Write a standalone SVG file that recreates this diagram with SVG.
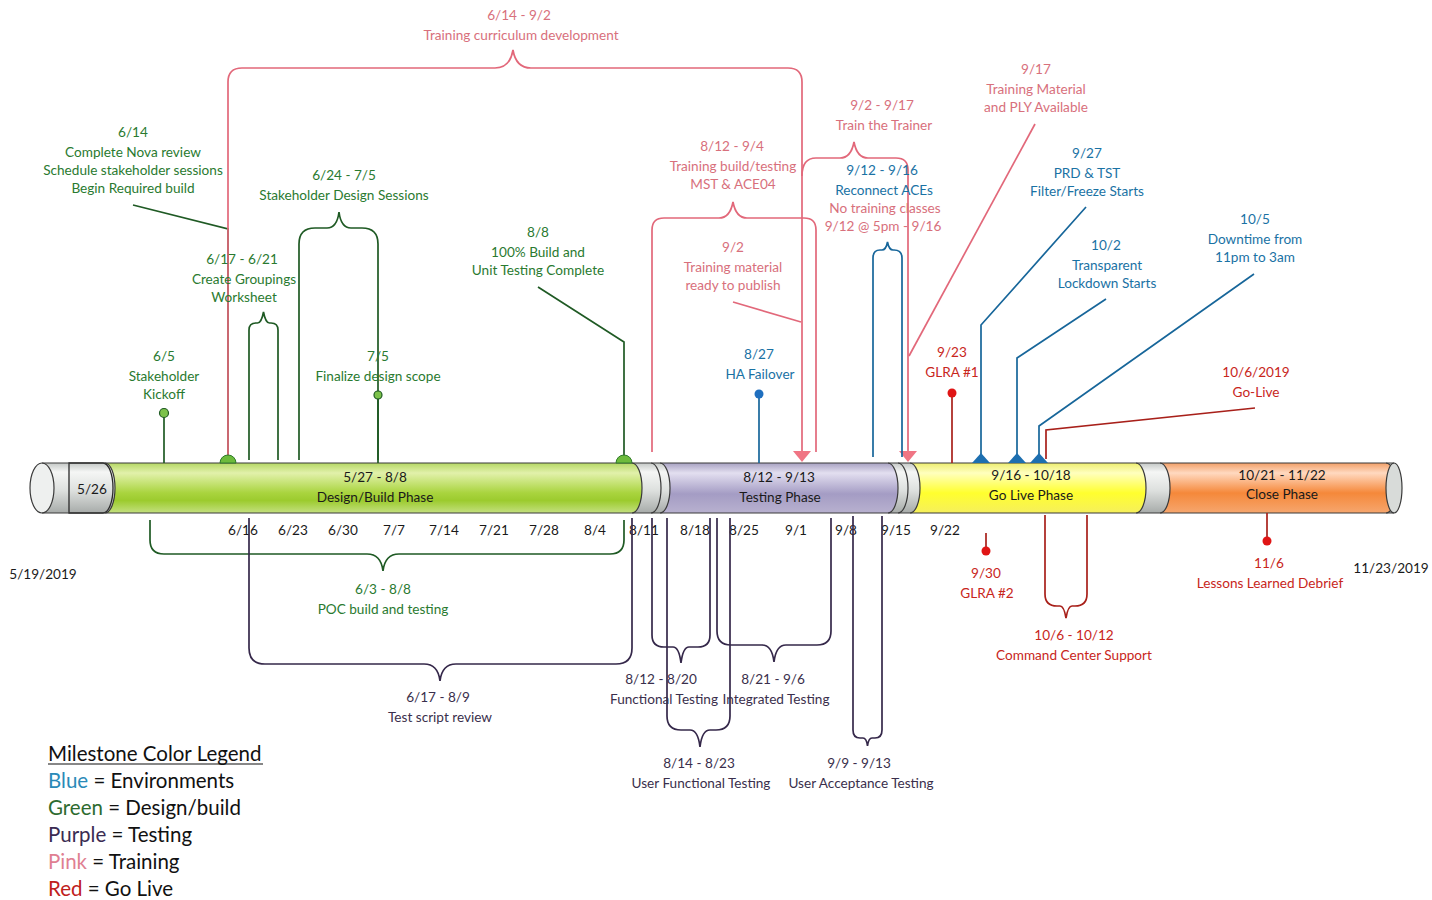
<svg xmlns="http://www.w3.org/2000/svg" width="1432" height="900" viewBox="0 0 1432 900">
<style>
.t{font-family:Lato,"Liberation Sans",sans-serif;font-size:13.6px;text-anchor:middle}
.g{fill:#2a7a30}.p{fill:#d8707c}.b{fill:#1a72a4}.r{fill:#c8261b}.u{fill:#3a2f4c}.k{fill:#1a1a1a}
.lg{stroke:#1f5a24;fill:none;stroke-width:1.7}
.lp{stroke:#e2687a;fill:none;stroke-width:1.7}
.lb{stroke:#17669a;fill:none;stroke-width:1.7}
.lr{stroke:#a8201a;fill:none;stroke-width:1.7}
.lu{stroke:#35284a;fill:none;stroke-width:1.7}
.sep{stroke:#3a3a3a;fill:none;stroke-width:1.2}
.leg{font-family:Lato,"Liberation Sans",sans-serif;font-size:20.5px;fill:#111}
</style>
<defs>
<linearGradient id="gGrey" x1="0" y1="0" x2="0" y2="1">
<stop offset="0" stop-color="#c4c8c6"/><stop offset="0.18" stop-color="#f5f6f5"/><stop offset="0.55" stop-color="#dde0de"/><stop offset="1" stop-color="#a7aba9"/>
</linearGradient>
<linearGradient id="gGreen" x1="0" y1="0" x2="0" y2="1">
<stop offset="0" stop-color="#b5d764"/><stop offset="0.2" stop-color="#e2f1ab"/><stop offset="0.6" stop-color="#a9d43e"/><stop offset="0.75" stop-color="#9ccb2e"/><stop offset="1" stop-color="#c4e080"/>
</linearGradient>
<linearGradient id="gPurple" x1="0" y1="0" x2="0" y2="1">
<stop offset="0" stop-color="#a8a2c2"/><stop offset="0.2" stop-color="#e3dff0"/><stop offset="0.62" stop-color="#a49cc4"/><stop offset="1" stop-color="#b8b1cf"/>
</linearGradient>
<linearGradient id="gYellow" x1="0" y1="0" x2="0" y2="1">
<stop offset="0" stop-color="#eeee70"/><stop offset="0.2" stop-color="#ffffbe"/><stop offset="0.6" stop-color="#ffff2e"/><stop offset="1" stop-color="#f5ef5c"/>
</linearGradient>
<linearGradient id="gOrange" x1="0" y1="0" x2="0" y2="1">
<stop offset="0" stop-color="#f2a068"/><stop offset="0.2" stop-color="#ffd9c0"/><stop offset="0.6" stop-color="#f5883a"/><stop offset="1" stop-color="#f6a66e"/>
</linearGradient>
</defs>
<rect width="1432" height="900" fill="#ffffff"/>

<!-- timeline bar -->
<g id="timeline-bar">
<rect x="42" y="463" width="1352" height="50" fill="url(#gGrey)"/>
<path d="M105,463 H632 A10,25 0 0 1 632,513 H105 A10,25 0 0 0 105,463 Z" fill="url(#gGreen)"/>
<path d="M660,463 H888 A10,25 0 0 1 888,513 H660 A10,25 0 0 0 660,463 Z" fill="url(#gPurple)"/>
<path d="M910,463 H1136 A10,25 0 0 1 1136,513 H910 A10,25 0 0 0 910,463 Z" fill="url(#gYellow)"/>
<path d="M1160,463 H1386 A10,25 0 0 1 1386,513 H1160 A10,25 0 0 0 1160,463 Z" fill="url(#gOrange)"/>
<path d="M69,463 H103 A10,25 0 0 1 103,513 H69 Z" fill="url(#gGrey)" stroke="#2a2a2a" stroke-width="1.3"/>
<path class="sep" d="M105,463 A10,25 0 0 1 105,513"/>
<path class="sep" d="M632,463 A10,25 0 0 1 632,513"/>
<path class="sep" d="M651,463 A10,25 0 0 1 651,513"/>
<path class="sep" d="M660,463 A10,25 0 0 1 660,513"/>
<path class="sep" d="M888,463 A10,25 0 0 1 888,513"/>
<path class="sep" d="M898,463 A10,25 0 0 1 898,513"/>
<path class="sep" d="M910,463 A10,25 0 0 1 910,513"/>
<path class="sep" d="M1136,463 A10,25 0 0 1 1136,513"/>
<path class="sep" d="M1160,463 A10,25 0 0 1 1160,513"/>
<path class="sep" d="M1386,463 A10,25 0 0 1 1386,513"/>
<ellipse cx="1394" cy="488" rx="8" ry="25" fill="#d8dbd9" stroke="#3a3a3a" stroke-width="1.2"/>
<ellipse cx="42" cy="488" rx="12" ry="25" fill="#eef0ef" stroke="#3a3a3a" stroke-width="1.2"/>
<line x1="42" y1="463" x2="1394" y2="463" stroke="#3a3a3a" stroke-width="1.2"/>
<line x1="42" y1="513" x2="1394" y2="513" stroke="#3a3a3a" stroke-width="1.2"/>
<text class="t k" x="92" y="494">5/26</text>
<text class="t k" x="375" y="482">5/27 - 8/8</text>
<text class="t k" x="375" y="502">Design/Build Phase</text>
<text class="t k" x="779" y="482">8/12 - 9/13</text>
<text class="t k" x="780" y="502">Testing Phase</text>
<text class="t k" x="1031" y="480">9/16 - 10/18</text>
<text class="t k" x="1031" y="500">Go Live Phase</text>
<text class="t k" x="1282" y="480">10/21 - 11/22</text>
<text class="t k" x="1282" y="499">Close Phase</text>
</g>

<g id="week-labels">
<text class="t k" x="243" y="535">6/16</text>
<text class="t k" x="293" y="535">6/23</text>
<text class="t k" x="343" y="535">6/30</text>
<text class="t k" x="394" y="535">7/7</text>
<text class="t k" x="444" y="535">7/14</text>
<text class="t k" x="494" y="535">7/21</text>
<text class="t k" x="544" y="535">7/28</text>
<text class="t k" x="595" y="535">8/4</text>
<text class="t k" x="644" y="535">8/11</text>
<text class="t k" x="695" y="535">8/18</text>
<text class="t k" x="744" y="535">8/25</text>
<text class="t k" x="796" y="535">9/1</text>
<text class="t k" x="846" y="535">9/8</text>
<text class="t k" x="896" y="535">9/15</text>
<text class="t k" x="945" y="535">9/22</text>
<text class="t k" x="43" y="579">5/19/2019</text>
<text class="t k" x="1391" y="573">11/23/2019</text>
</g>

<!-- connectors -->
<g id="connectors">
<!-- green -->
<polyline class="lg" points="133,205 228,229 228,456"/>
<polyline class="lg" points="538,287 624,342 624,456"/>
<line class="lg" x1="164" y1="413" x2="164" y2="463"/>
<line class="lg" x1="378" y1="395" x2="378" y2="463"/>
<path class="lg" d="M249,460 V330 Q249,323 256,323 H257.5 Q261.5,323 263.5,312 Q265.5,323 269.5,323 H271 Q278,323 278,330 V460"/>
<path class="lg" d="M299,460 V244 Q299,228 315,228 H327 Q337,228 339,212 Q341,228 351,228 H362 Q378,228 378,244 V460"/>
<path class="lg" d="M150,520 V540 Q150,554 164,554 H367 Q381,554 383,571 Q385,554 399,554 H610 Q624,554 624,540 V520"/>
<!-- pink -->
<path class="lp" d="M228,456 V82 Q228,68 242,68 H495 Q510,68 513,50 Q516,68 531,68 H788 Q802,68 802,82 V452"/>
<path class="lp" d="M652,452 V230 Q652,218 664,218 H719 Q730,218 733,202 Q736,218 747,218 H804 Q816,218 816,230 V452"/>
<path class="lp" d="M802,176 Q802,158 816,158 H840 Q851,158 854,142 Q857,158 868,158 H896 Q908,158 908,170 V452"/>
<line class="lp" x1="733" y1="302" x2="801" y2="322"/>
<line class="lp" x1="1035" y1="124" x2="909" y2="356"/>
<polygon points="793,451 811,451 802,462" fill="#f07584"/>
<polygon points="899,451 917,451 908,462" fill="#f07584"/>
<!-- blue -->
<line class="lb" x1="759" y1="394" x2="759" y2="463"/>
<path class="lb" d="M873,457 V258 Q873,250 880,250 H882 Q886,250 887.5,242 Q889,250 893,250 H894 Q902,250 902,258 V457"/>
<polyline class="lb" points="1086,207 981,325 981,455"/>
<polyline class="lb" points="1106,299 1017,358 1017,455"/>
<polyline class="lb" points="1254,274 1039,426 1039,455"/>
<polygon points="972,463 990,463 981,453" fill="#1d6fb0"/>
<polygon points="1008,463 1026,463 1017,453" fill="#1d6fb0"/>
<polygon points="1030,463 1048,463 1039,453" fill="#1d6fb0"/>
<!-- red -->
<line class="lr" x1="952" y1="393" x2="952" y2="463"/>
<polyline class="lr" points="1255,408 1046,430 1046,459"/>
<line class="lr" x1="986" y1="533" x2="986" y2="551"/>
<line class="lr" x1="1267" y1="513" x2="1267" y2="541"/>
<path class="lr" d="M1045,515 V594 Q1045,606 1057,606 H1060 Q1064,606 1066,618 Q1068,606 1072,606 H1075 Q1087,606 1087,594 V515"/>
<!-- purple -->
<path class="lu" d="M249,518 V648 Q249,664 265,664 H424 Q438,664 440,681 Q442,664 456,664 H616 Q632,664 632,648 V518"/>
<path class="lu" d="M652,518 V635 Q652,647 664,647 H673 Q679,647 681,663 Q683,647 689,647 H698 Q710,647 710,635 V518"/>
<path class="lu" d="M717,518 V631 Q717,645 731,645 H762 Q772,645 774,662 Q776,645 786,645 H817 Q831,645 831,631 V518"/>
<path class="lu" d="M667,518 V716 Q667,730 681,730 H690 Q698,730 700,747 Q702,730 710,730 H716 Q730,730 730,716 V518"/>
<path class="lu" d="M853,516 V730 Q853,738 860,738 H863 Q866.5,738 867.5,746 Q868.5,738 872,738 H875 Q882,738 882,730 V516"/>
</g>

<!-- green milestones -->
<g id="m-kickoff">
<circle cx="164" cy="413" r="4.5" fill="#7cc24a" stroke="#1f5a24" stroke-width="1.2"/>
<text class="t g" x="164" y="361">6/5</text>
<text class="t g" x="164" y="381">Stakeholder</text>
<text class="t g" x="164" y="399">Kickoff</text>
</g>
<g id="m-nova">
<path d="M220,463 A8,8 0 0 1 236,463 Z" fill="#6dbb3c" stroke="#2f7a2a" stroke-width="1"/>
<text class="t g" x="133" y="137">6/14</text>
<text class="t g" x="133" y="157">Complete Nova review</text>
<text class="t g" x="133" y="175">Schedule stakeholder sessions</text>
<text class="t g" x="133" y="193">Begin Required build</text>
</g>
<g id="m-groupings">
<text class="t g" x="242" y="264">6/17 - 6/21</text>
<text class="t g" x="244" y="284">Create Groupings</text>
<text class="t g" x="244" y="302">Worksheet</text>
</g>
<g id="m-design-sessions">
<text class="t g" x="344" y="180">6/24 - 7/5</text>
<text class="t g" x="344" y="200">Stakeholder Design Sessions</text>
</g>
<g id="m-design-scope">
<circle cx="378" cy="395" r="4" fill="#7cc24a" stroke="#1f5a24" stroke-width="1.2"/>
<text class="t g" x="378" y="361">7/5</text>
<text class="t g" x="378" y="381">Finalize design scope</text>
</g>
<g id="m-build-complete">
<path d="M616,463 A8,8 0 0 1 632,463 Z" fill="#6dbb3c" stroke="#2f7a2a" stroke-width="1"/>
<text class="t g" x="538" y="237">8/8</text>
<text class="t g" x="538" y="257">100% Build and</text>
<text class="t g" x="538" y="275">Unit Testing Complete</text>
</g>
<g id="m-poc">
<text class="t g" x="383" y="594">6/3 - 8/8</text>
<text class="t g" x="383" y="614">POC build and testing</text>
</g>

<!-- pink milestones -->
<g id="m-curriculum">
<text class="t p" x="519" y="20">6/14 - 9/2</text>
<text class="t p" x="521" y="40">Training curriculum development</text>
</g>
<g id="m-training-build">
<text class="t p" x="732" y="151">8/12 - 9/4</text>
<text class="t p" x="733" y="171">Training build/testing</text>
<text class="t p" x="733" y="189">MST &amp; ACE04</text>
</g>
<g id="m-material-ready">
<text class="t p" x="733" y="252">9/2</text>
<text class="t p" x="733" y="272">Training material</text>
<text class="t p" x="733" y="290">ready to publish</text>
</g>
<g id="m-train-trainer">
<text class="t p" x="882" y="110">9/2 - 9/17</text>
<text class="t p" x="884" y="130">Train the Trainer</text>
</g>
<g id="m-material-available">
<text class="t p" x="1036" y="74">9/17</text>
<text class="t p" x="1036" y="94">Training Material</text>
<text class="t p" x="1036" y="112">and PLY  Available</text>
</g>

<!-- blue milestones -->
<g id="m-reconnect">
<text class="t b" x="882" y="175">9/12 - 9/16</text>
<text class="t b" x="884" y="195">Reconnect ACEs</text>
<text class="t p" x="885" y="213">No training classes</text>
<text class="t p" x="883" y="231">9/12 @ 5pm - 9/16</text>
</g>
<g id="m-ha-failover">
<circle cx="759" cy="394" r="4.5" fill="#1f6fbf"/>
<text class="t b" x="759" y="359">8/27</text>
<text class="t b" x="760" y="379">HA Failover</text>
</g>
<g id="m-filter-freeze">
<text class="t b" x="1087" y="158">9/27</text>
<text class="t b" x="1087" y="178">PRD &amp; TST</text>
<text class="t b" x="1087" y="196">Filter/Freeze Starts</text>
</g>
<g id="m-lockdown">
<text class="t b" x="1106" y="250">10/2</text>
<text class="t b" x="1107" y="270">Transparent</text>
<text class="t b" x="1107" y="288">Lockdown Starts</text>
</g>
<g id="m-downtime">
<text class="t b" x="1255" y="224">10/5</text>
<text class="t b" x="1255" y="244">Downtime from</text>
<text class="t b" x="1255" y="262">11pm to 3am</text>
</g>

<!-- red milestones -->
<g id="m-glra1">
<circle cx="952" cy="393" r="4.5" fill="#e01515"/>
<text class="t r" x="952" y="357">9/23</text>
<text class="t r" x="952" y="377">GLRA #1</text>
</g>
<g id="m-golive">
<text class="t r" x="1256" y="377">10/6/2019</text>
<text class="t r" x="1256" y="397">Go-Live</text>
</g>
<g id="m-glra2">
<circle cx="986" cy="551" r="4.5" fill="#e01515"/>
<text class="t r" x="986" y="578">9/30</text>
<text class="t r" x="987" y="598">GLRA #2</text>
</g>
<g id="m-command-center">
<text class="t r" x="1074" y="640">10/6 - 10/12</text>
<text class="t r" x="1074" y="660">Command Center Support</text>
</g>
<g id="m-lessons">
<circle cx="1267" cy="541" r="4.5" fill="#e01515"/>
<text class="t r" x="1269" y="568">11/6</text>
<text class="t r" x="1270" y="588">Lessons Learned Debrief</text>
</g>

<!-- purple milestones -->
<g id="m-test-script">
<text class="t u" x="438" y="702">6/17 - 8/9</text>
<text class="t u" x="440" y="722">Test script review</text>
</g>
<g id="m-functional">
<text class="t u" x="661" y="684">8/12 - 8/20</text>
<text class="t u" x="664" y="704">Functional Testing</text>
</g>
<g id="m-integrated">
<text class="t u" x="773" y="684">8/21 - 9/6</text>
<text class="t u" x="776" y="704">Integrated Testing</text>
</g>
<g id="m-user-functional">
<text class="t u" x="699" y="768">8/14 - 8/23</text>
<text class="t u" x="701" y="788">User Functional Testing</text>
</g>
<g id="m-uat">
<text class="t u" x="859" y="768">9/9 - 9/13</text>
<text class="t u" x="861" y="788">User Acceptance Testing</text>
</g>

<!-- legend -->
<g id="legend">
<text class="leg" x="48" y="761">Milestone Color Legend</text>
<line x1="48" y1="764" x2="263" y2="764" stroke="#111" stroke-width="1.2"/>
<text class="leg" x="48" y="788"><tspan fill="#2a8ab8">Blue</tspan> = Environments</text>
<text class="leg" x="48" y="815"><tspan fill="#2e6b30">Green</tspan> = Design/build</text>
<text class="leg" x="48" y="842"><tspan fill="#3a2b52">Purple</tspan> = Testing</text>
<text class="leg" x="48" y="869"><tspan fill="#e07f92">Pink</tspan> = Training</text>
<text class="leg" x="48" y="896"><tspan fill="#c0201c">Red</tspan> = Go Live</text>
</g>
</svg>
